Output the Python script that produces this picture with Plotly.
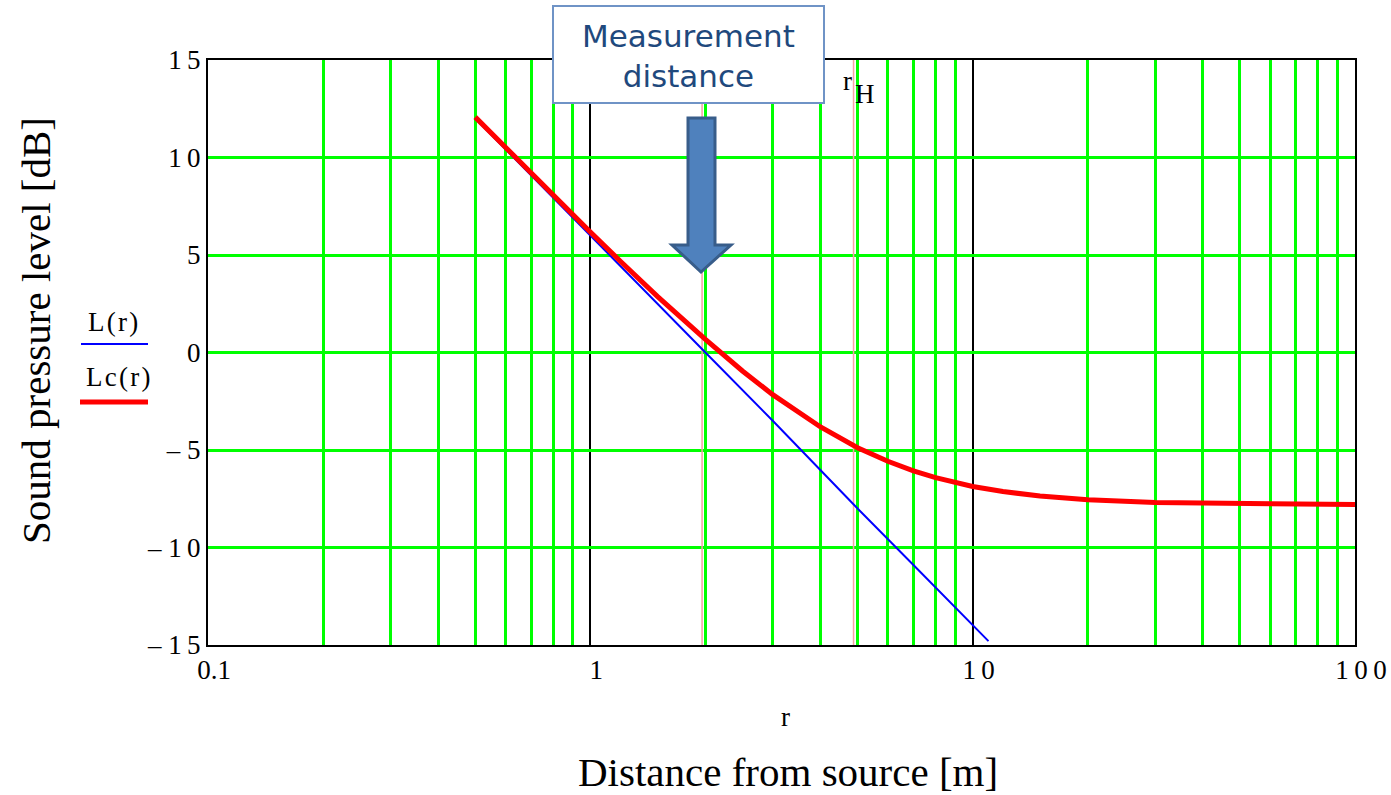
import plotly.graph_objects as go

# ---- data ----
r_L = [0.5, 0.7, 1, 1.5, 2, 3, 5, 7, 10, 11]
L_vals = [12.0, 9.1, 6.0, 2.5, 0.0, -3.5, -8.0, -10.9, -14.0, -14.8]

r_Lc = [0.5, 0.6, 0.7, 0.8, 0.9, 1, 1.2, 1.5, 2, 2.5, 3, 4, 5, 6, 7, 8,
        10, 12, 15, 20, 30, 50, 70, 100]
Lc_vals = [12.07, 10.51, 9.19, 8.05, 7.06, 6.18, 4.67, 2.87, 0.67, -0.95,
           -2.16, -3.82, -4.88, -5.58, -6.07, -6.42, -6.87, -7.13, -7.36,
           -7.55, -7.69, -7.76, -7.78, -7.80]

r_meas = 1.96
r_H = 4.88

TS = "\u2009"  # thin space between digits, as in the reference typography
HS = "\u200a"  # hair space
x_tickvals = [0.1, 1, 10, 100]
x_ticktext = ["0.1", "1", "1" + TS + "0", "1" + TS + "0" + TS + "0"]
x_minor = [m * d for d in (0.1, 1, 10) for m in range(2, 10)]
y_tickvals = [15, 10, 5, 0, -5, -10, -15]
y_ticktext = ["1" + TS + "5", "1" + TS + "0", "5", "0", "\u2013 5",
              "\u2013 1" + TS + "0", "\u2013 1" + TS + "5"]

SERIF = "Liberation Serif, Times New Roman, serif"

fig = go.Figure()
# vertical marker lines
fig.add_trace(go.Scatter(x=[r_meas, r_meas], y=[-15, 15], mode="lines",
                         line=dict(color="#f4a3a3", width=1.5), hoverinfo="skip"))
fig.add_trace(go.Scatter(x=[r_H, r_H], y=[-15, 15], mode="lines",
                         line=dict(color="#f4a3a3", width=1.5), hoverinfo="skip"))
fig.add_trace(go.Scatter(x=r_L, y=L_vals, mode="lines", name="L(r)",
                         line=dict(color="#0000ff", width=2)))
fig.add_trace(go.Scatter(x=r_Lc, y=Lc_vals, mode="lines", name="Lc(r)",
                         line=dict(color="#ff0000", width=5)))

fig.update_xaxes(type="log", range=[-1, 2], tickvals=x_tickvals, ticktext=x_ticktext,
                 showgrid=True, gridcolor="black", gridwidth=2,
                 minor=dict(tickvals=x_minor, showgrid=True, gridcolor="#00ff00", gridwidth=2.5),
                 showline=True, linecolor="black", linewidth=2, mirror=True,
                 zeroline=False, ticks="", tickfont=dict(family=SERIF, size=27, color="black"),
                 ticklabelshift=6, ticklabelstandoff=0, automargin=False)
fig.update_yaxes(range=[-15, 15], tickvals=y_tickvals, ticktext=y_ticktext,
                 showgrid=True, gridcolor="#00ff00", gridwidth=2.5,
                 showline=True, linecolor="black", linewidth=2, mirror=True,
                 zeroline=False, ticks="", tickfont=dict(family=SERIF, size=27, color="black"),
                 ticklabelstandoff=0, automargin=False)

W, H = 1391, 795
L0, R0, T0, B0 = 208, 36, 60, 150
pw, ph = W - L0 - R0, H - T0 - B0

def px(x):
    return (x - L0) / pw

def py(y):
    return (H - B0 - y) / ph

shapes = []
# measurement box
shapes.append(dict(type="rect", xref="paper", yref="paper",
                   x0=px(553), x1=px(824), y0=py(103), y1=py(6),
                   fillcolor="white", line=dict(color="#6f93c6", width=2), layer="above"))
# arrow
path = "M {} {} L {} {} L {} {} L {} {} L {} {} L {} {} L {} {} Z".format(
    px(688), py(118), px(715), py(118), px(715), py(245), px(731), py(245),
    px(701), py(272), px(672), py(245), px(688), py(245))
shapes.append(dict(type="path", xref="paper", yref="paper", path=path,
                   fillcolor="#4f81bd", line=dict(color="#385d8a", width=3), layer="above"))
# legend lines
shapes.append(dict(type="line", xref="paper", yref="paper", x0=px(81), x1=px(148),
                   y0=py(344), y1=py(344), line=dict(color="#0000ff", width=2)))
shapes.append(dict(type="line", xref="paper", yref="paper", x0=px(80), x1=px(148),
                   y0=py(402), y1=py(402), line=dict(color="#ff0000", width=5)))

def ann(text, x, y, size, family=SERIF, color="black", angle=0):
    return dict(text=text, xref="paper", yref="paper", x=px(x), y=py(y),
                xanchor="center", yanchor="middle", showarrow=False, textangle=angle,
                font=dict(family=family, size=size, color=color))

annotations = [
    ann("Measurement<br>distance", 688, 56, 31,
        family="DejaVu Sans, Verdana, sans-serif", color="#1f497d"),
    ann("r", 847, 81, 27),
    ann("H", 865, 94, 27),
    ann("L" + HS + "(" + HS + "r" + HS + ")", 113, 322, 27),
    ann("L" + HS + "c" + HS + "(" + HS + "r" + HS + ")", 118, 377, 27),
    ann("r", 785, 717, 27),
    ann("Distance from source [m]", 788, 772, 41),
    ann("Sound pressure level [dB]", 36, 331, 41, angle=-90),
]

fig.update_layout(width=W, height=H, margin=dict(l=L0, r=R0, t=T0, b=B0),
                  paper_bgcolor="white", plot_bgcolor="white", showlegend=False,
                  shapes=shapes, annotations=annotations)

fig.write_html("out.html")
